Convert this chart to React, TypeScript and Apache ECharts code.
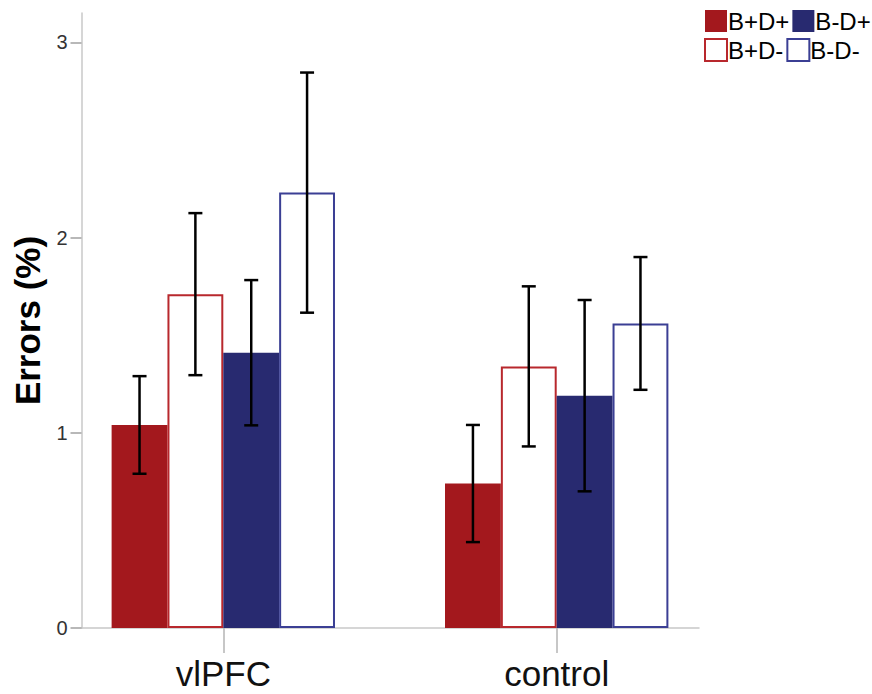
import React, { useEffect, useRef } from "react";
import * as echarts from "echarts";

const categories = ["vlPFC", "control"];
const seriesNames = ["B+D+", "B+D-", "B-D+", "B-D-"];
const legendOrder = ["B+D+", "B-D+", "B+D-", "B-D-"];
// means per series: [vlPFC, control]
const meanBDp = [1.04, 0.74];
const meanBDm = [1.71, 1.34];
const meanNBDp = [1.41, 1.19];
const meanNBDm = [2.23, 1.56];
// error bar half-widths per series: [vlPFC, control]
const errBDp = [0.25, 0.3];
const errBDm = [0.415, 0.41];
const errNBDp = [0.372, 0.49];
const errNBDm = [0.615, 0.34];
const yTicks = [0, 1, 2, 3];

const FONT = "'Liberation Sans', Arial, Helvetica, sans-serif";
const RED = "#A3181D";
const NAVY = "#282A70";
const RED_LINE = "#B8282D";
const BLUE_LINE = "#3B3F94";

export default function App() {
  const ref = useRef<HTMLDivElement>(null);
  useEffect(() => {
    if (!ref.current) return;
    const chart = echarts.init(ref.current, undefined, { renderer: "svg" });
    const means = [meanBDp, meanBDm, meanNBDp, meanNBDm];
    const errs = [errBDp, errBDm, errNBDp, errNBDm];
    const styles = [
      { color: RED, borderColor: RED, borderWidth: 0 },
      { color: "#ffffff", borderColor: RED_LINE, borderWidth: 2 },
      { color: NAVY, borderColor: NAVY, borderWidth: 0 },
      { color: "#ffffff", borderColor: BLUE_LINE, borderWidth: 2 },
    ];
    const barSeries = seriesNames.map((name, k) => ({
      type: "bar",
      name,
      xAxisIndex: 1,
      yAxisIndex: 1,
      data: means[k],
      barGap: "0%",
      barCategoryGap: "33%",
      itemStyle: styles[k],
      z: 2,
    }));
    const errSeries = seriesNames.map((name, k) => ({
      type: "custom",
      name: "err_" + name,
      xAxisIndex: 1,
      yAxisIndex: 1,
      z: 5,
      data: means[k].map((m, i) => [i, m - errs[k][i], m + errs[k][i]]),
      renderItem: (params: any, api: any) => {
        const ci = api.value(0);
        const lo = api.value(1);
        const hi = api.value(2);
        const band = api.size([1, 0])[0];
        const bw = (band * 0.67) / 4;
        const c = api.coord([ci, 0]);
        const x = c[0] + (k - 1.5) * bw;
        const yLo = api.coord([ci, lo])[1];
        const yHi = api.coord([ci, hi])[1];
        const cap = 7;
        const st = { stroke: "#000", lineWidth: 2.5 };
        return {
          type: "group",
          children: [
            { type: "line", shape: { x1: x, y1: yLo, x2: x, y2: yHi }, style: st },
            { type: "line", shape: { x1: x - cap, y1: yHi, x2: x + cap, y2: yHi }, style: st },
            { type: "line", shape: { x1: x - cap, y1: yLo, x2: x + cap, y2: yLo }, style: st },
          ],
        };
      },
    }));
    const yMax = 3.15;
    chart.setOption({
      animation: false,
      textStyle: { fontFamily: FONT },
      grid: [
        { left: 81.5, right: 173, top: 13, bottom: 66 },
        { left: 56.6, right: 148.6, top: 13, bottom: 66 },
      ],
      legend: {
        data: legendOrder,
        left: 699,
        top: 3,
        width: 172,
        itemWidth: 22,
        itemHeight: 22,
        itemGap: 3,
        icon: "rect",
        textStyle: {
          fontSize: 24,
          lineHeight: 26,
          color: "#000",
          fontFamily: FONT,
          padding: [0, 0, 0, -4],
        },
      },
      xAxis: [
        {
          type: "value",
          gridIndex: 0,
          min: 0,
          max: 1,
          axisLine: { show: true, lineStyle: { color: "#c8c8c8", width: 1.5 } },
          axisTick: { show: false },
          axisLabel: { show: false },
          splitLine: { show: false },
        },
        {
          type: "category",
          gridIndex: 1,
          data: categories,
          axisLine: { show: false },
          axisTick: {
            show: true,
            alignWithLabel: true,
            length: 25,
            lineStyle: { color: "#b4b4b4", width: 1.5 },
          },
          axisLabel: {
            fontSize: 35,
            lineHeight: 32,
            color: "#111",
            margin: 29,
            fontFamily: FONT,
          },
        },
      ],
      yAxis: [
        {
          type: "value",
          gridIndex: 0,
          min: 0,
          max: yMax,
          interval: 1,
          name: "Errors (%)",
          nameLocation: "middle",
          nameGap: 30,
          nameTextStyle: { fontSize: 35, fontWeight: "bold", color: "#000", fontFamily: FONT },
          axisLine: { show: true, lineStyle: { color: "#c8c8c8", width: 1.5 } },
          axisTick: {
            show: true,
            length: 11,
            customValues: yTicks,
            lineStyle: { color: "#a0a0a0", width: 1.5 },
          },
          axisLabel: {
            show: true,
            fontSize: 20,
            color: "#333333",
            margin: 14,
            showMaxLabel: false,
            fontFamily: FONT,
            formatter: (v: number) => (yTicks.indexOf(v) >= 0 ? String(v) : ""),
          },
          splitLine: { show: false },
        },
        {
          type: "value",
          gridIndex: 1,
          min: 0,
          max: yMax,
          show: false,
          splitLine: { show: false },
        },
      ],
      series: [...barSeries, ...errSeries],
    });
    return () => chart.dispose();
  }, []);
  return (
    <div
      ref={ref}
      style={{ position: "fixed", left: 0, top: 0, width: 872, height: 694, background: "#fff" }}
    />
  );
}
